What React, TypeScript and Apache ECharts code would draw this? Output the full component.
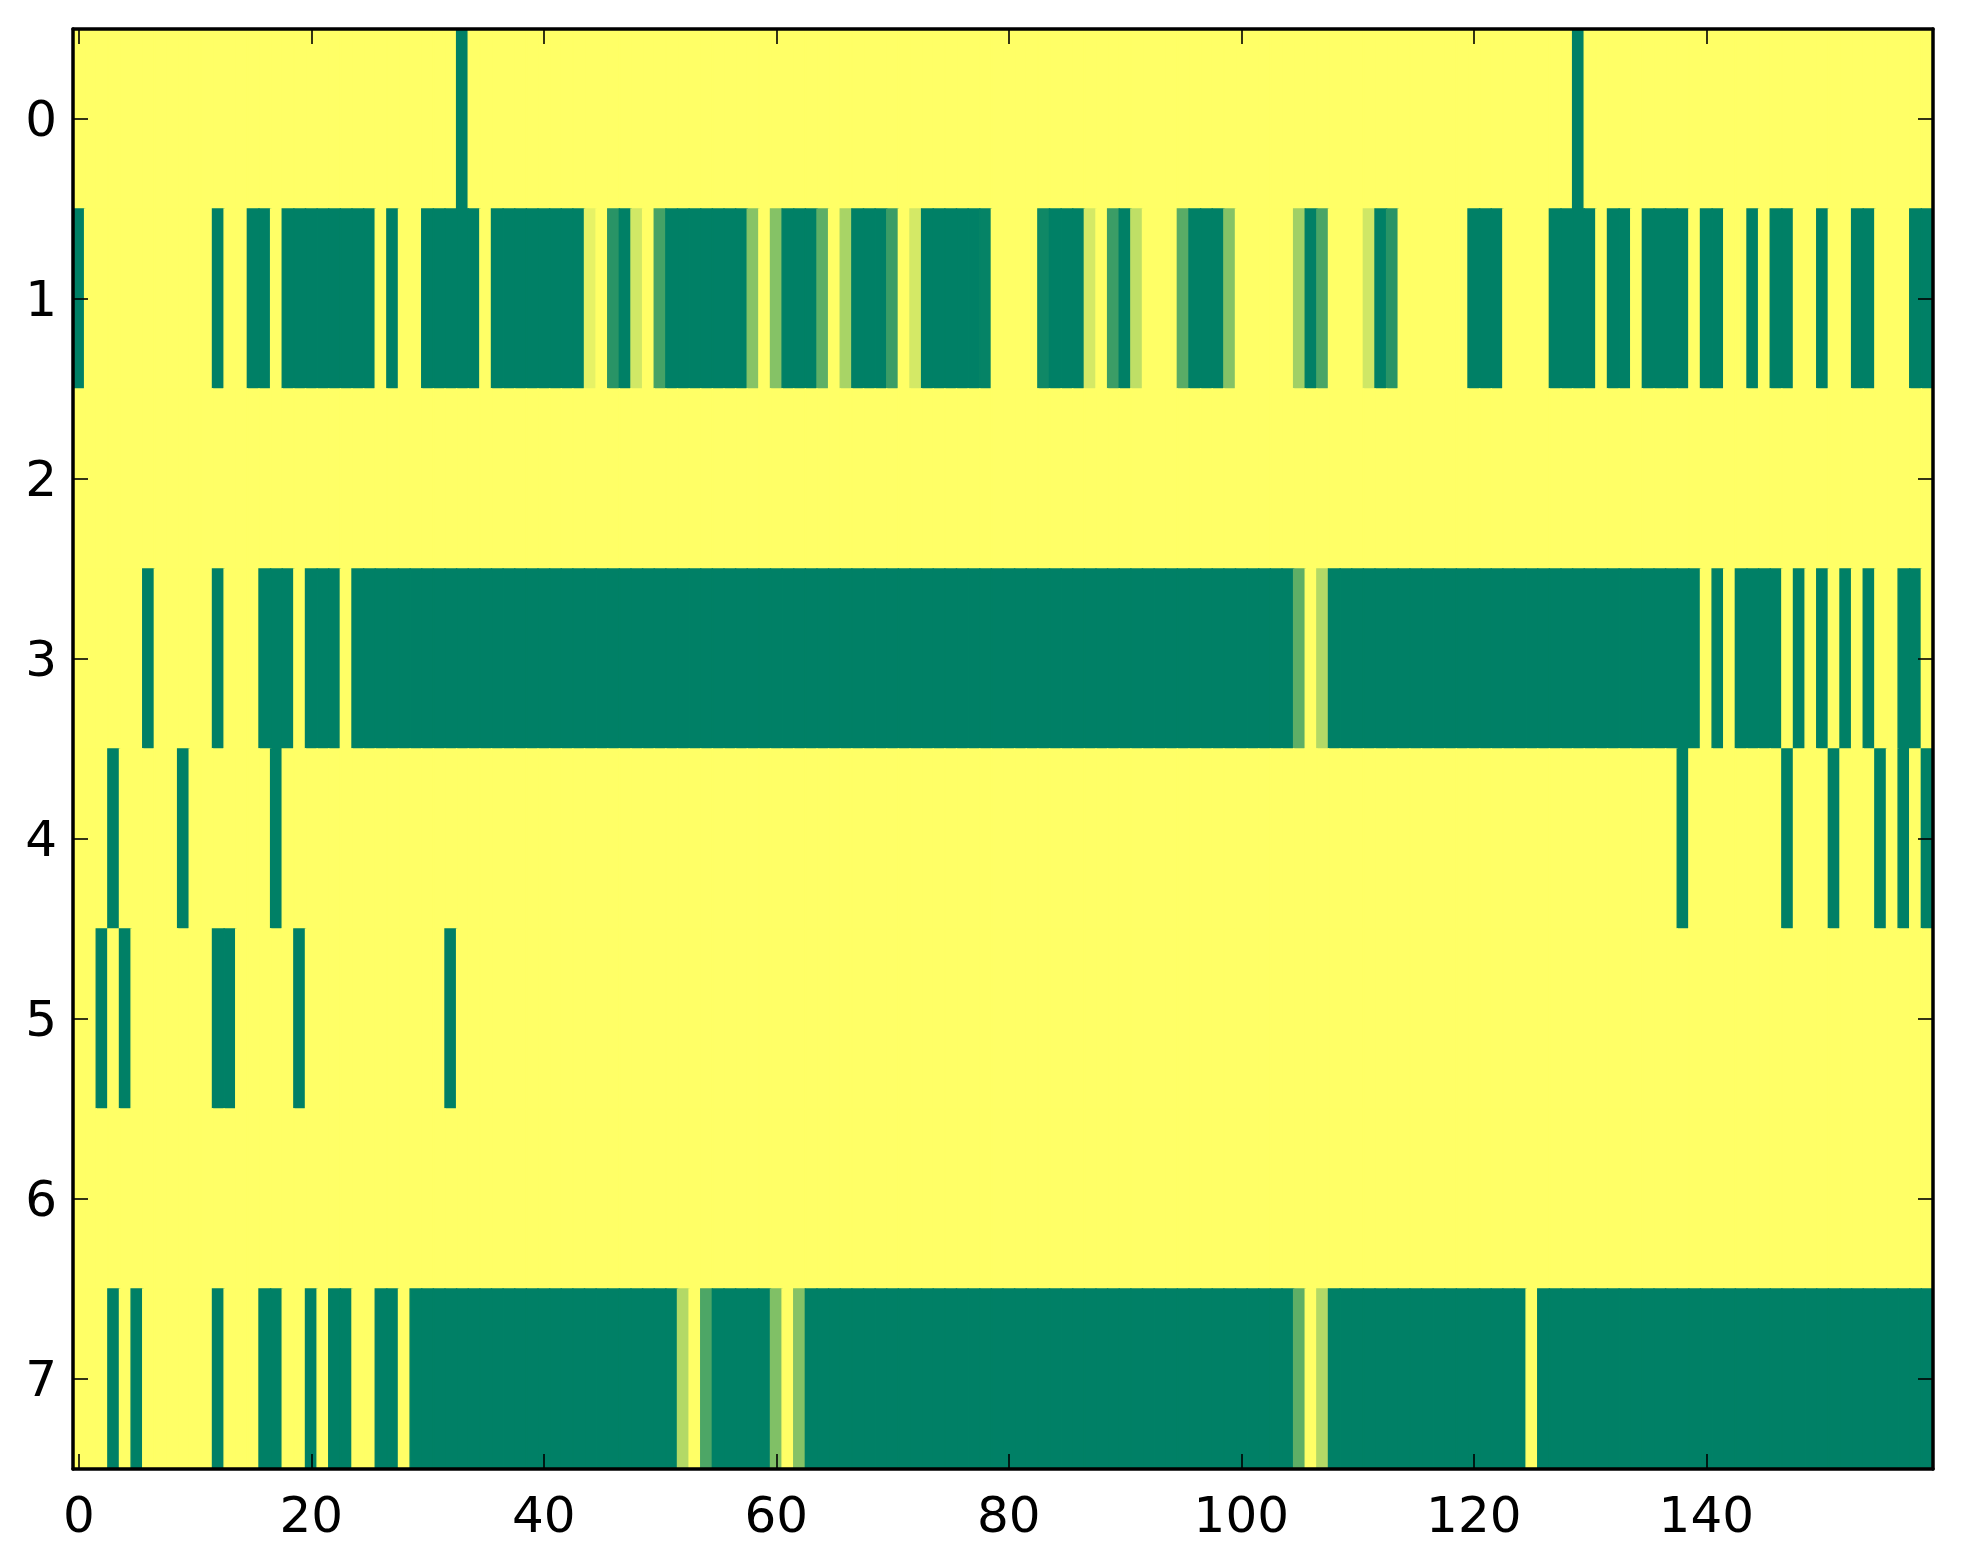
import React, { useEffect, useRef } from "react";
import * as echarts from "echarts";

// x tick values / labels and y tick values / labels
const xTicks = [0, 20, 40, 60, 80, 100, 120, 140];
const yTicks = [0, 1, 2, 3, 4, 5, 6, 7];

// one array of 160 values per image row (0 = green, 1 = yellow)
const row0 = [
  1,1,1,1,1,1,1,1,1,1, 1,1,1,1,1,1,1,1,1,1,
  1,1,1,1,1,1,1,1,1,1, 1,1,1,0,1,1,1,1,1,1,
  1,1,1,1,1,1,1,1,1,1, 1,1,1,1,1,1,1,1,1,1,
  1,1,1,1,1,1,1,1,1,1, 1,1,1,1,1,1,1,1,1,1,
  1,1,1,1,1,1,1,1,1,1, 1,1,1,1,1,1,1,1,1,1,
  1,1,1,1,1,1,1,1,1,1, 1,1,1,1,1,1,1,1,1,1,
  1,1,1,1,1,1,1,1,1,0, 1,1,1,1,1,1,1,1,1,1,
  1,1,1,1,1,1,1,1,1,1, 1,1,1,1,1,1,1,1,1,1,
];
const row1 = [
  0,1,1,1,1,1,1,1,1,1, 1,1,0,1,1,0,0,1,0,0,
  0,0,0,0,0,0,1,0,1,1, 0,0,0,0,0,1,0,0,0,0,
  0,0,0,0,0.9,1,0.16,0,0.82,1, 0.27,0,0,0,0,0,0,0,0.53,1,
  0.52,0,0,0,0.37,1,0.66,0,0,0, 0.23,1,0.83,0,0,0,0,0,0.02,1,
  1,1,1,0.06,0,0,0,0.83,1,0.23, 0,0.75,1,1,1,0.35,0,0,0,0.52,
  1,1,1,1,1,0.63,0,0.29,1,1, 1,0.81,0,0.16,1,1,1,1,1,1,
  0,0,0,1,1,1,1,0,0,0, 0,1,0,0,1,0,0,0,0,1,
  0,0,1,1,0,1,0,0,1,1, 0,1,1,0,0,1,1,1,0,0,
];
const row2 = [
  1,1,1,1,1,1,1,1,1,1, 1,1,1,1,1,1,1,1,1,1,
  1,1,1,1,1,1,1,1,1,1, 1,1,1,1,1,1,1,1,1,1,
  1,1,1,1,1,1,1,1,1,1, 1,1,1,1,1,1,1,1,1,1,
  1,1,1,1,1,1,1,1,1,1, 1,1,1,1,1,1,1,1,1,1,
  1,1,1,1,1,1,1,1,1,1, 1,1,1,1,1,1,1,1,1,1,
  1,1,1,1,1,1,1,1,1,1, 1,1,1,1,1,1,1,1,1,1,
  1,1,1,1,1,1,1,1,1,1, 1,1,1,1,1,1,1,1,1,1,
  1,1,1,1,1,1,1,1,1,1, 1,1,1,1,1,1,1,1,1,1,
];
const row3 = [
  1,1,1,1,1,1,0,1,1,1, 1,1,0,1,1,1,0,0,0,1,
  0,0,0,1,0,0,0,0,0,0, 0,0,0,0,0,0,0,0,0,0,
  0,0,0,0,0,0,0,0,0,0, 0,0,0,0,0,0,0,0,0,0,
  0,0,0,0,0,0,0,0,0,0, 0,0,0,0,0,0,0,0,0,0,
  0,0,0,0,0,0,0,0,0,0, 0,0,0,0,0,0,0,0,0,0,
  0,0,0,0,0,0.37,1,0.7,0,0, 0,0,0,0,0,0,0,0,0,0,
  0,0,0,0,0,0,0,0,0,0, 0,0,0,0,0,0,0,0,0,0,
  1,0,1,0,0,0,0,1,0,1, 0,1,0,1,0,1,1,0,0,1,
];
const row4 = [
  1,1,1,0,1,1,1,1,1,0, 1,1,1,1,1,1,1,0,1,1,
  1,1,1,1,1,1,1,1,1,1, 1,1,1,1,1,1,1,1,1,1,
  1,1,1,1,1,1,1,1,1,1, 1,1,1,1,1,1,1,1,1,1,
  1,1,1,1,1,1,1,1,1,1, 1,1,1,1,1,1,1,1,1,1,
  1,1,1,1,1,1,1,1,1,1, 1,1,1,1,1,1,1,1,1,1,
  1,1,1,1,1,1,1,1,1,1, 1,1,1,1,1,1,1,1,1,1,
  1,1,1,1,1,1,1,1,1,1, 1,1,1,1,1,1,1,1,0,1,
  1,1,1,1,1,1,1,0,1,1, 1,0,1,1,1,0,1,0,1,0,
];
const row5 = [
  1,1,0,1,0,1,1,1,1,1, 1,1,0,0,1,1,1,1,1,0,
  1,1,1,1,1,1,1,1,1,1, 1,1,0,1,1,1,1,1,1,1,
  1,1,1,1,1,1,1,1,1,1, 1,1,1,1,1,1,1,1,1,1,
  1,1,1,1,1,1,1,1,1,1, 1,1,1,1,1,1,1,1,1,1,
  1,1,1,1,1,1,1,1,1,1, 1,1,1,1,1,1,1,1,1,1,
  1,1,1,1,1,1,1,1,1,1, 1,1,1,1,1,1,1,1,1,1,
  1,1,1,1,1,1,1,1,1,1, 1,1,1,1,1,1,1,1,1,1,
  1,1,1,1,1,1,1,1,1,1, 1,1,1,1,1,1,1,1,1,1,
];
const row6 = [
  1,1,1,1,1,1,1,1,1,1, 1,1,1,1,1,1,1,1,1,1,
  1,1,1,1,1,1,1,1,1,1, 1,1,1,1,1,1,1,1,1,1,
  1,1,1,1,1,1,1,1,1,1, 1,1,1,1,1,1,1,1,1,1,
  1,1,1,1,1,1,1,1,1,1, 1,1,1,1,1,1,1,1,1,1,
  1,1,1,1,1,1,1,1,1,1, 1,1,1,1,1,1,1,1,1,1,
  1,1,1,1,1,1,1,1,1,1, 1,1,1,1,1,1,1,1,1,1,
  1,1,1,1,1,1,1,1,1,1, 1,1,1,1,1,1,1,1,1,1,
  1,1,1,1,1,1,1,1,1,1, 1,1,1,1,1,1,1,1,1,1,
];
const row7 = [
  1,1,1,0,1,0,1,1,1,1, 1,1,0,1,1,1,0,0,1,1,
  0,1,0,0,1,1,0,0,1,0, 0,0,0,0,0,0,0,0,0,0,
  0,0,0,0,0,0,0,0,0,0, 0,0,0.7,1,0.3,0,0,0,0,0,
  0.5,1,0.52,0,0,0,0,0,0,0, 0,0,0,0,0,0,0,0,0,0,
  0,0,0,0,0,0,0,0,0,0, 0,0,0,0,0,0,0,0,0,0,
  0,0,0,0,0,0.37,1,0.7,0,0, 0,0,0,0,0,0,0,0,0,0,
  0,0,0,0,0,1,0,0,0,0, 0,0,0,0,0,0,0,0,0,0,
  0,0,0,0,0,0,0,0,0,0, 0,0,0,0,0,0,0,0,0,0,
];

const rows = [row0, row1, row2, row3, row4, row5, row6, row7];

const FONT = "DejaVu Sans";

export default function App() {
  const ref = useRef<HTMLDivElement>(null);

  useEffect(() => {
    if (!ref.current) return;
    const chart = echarts.init(ref.current, null, { renderer: "svg" });

    const cells: number[][] = [];
    rows.forEach((r, yi) => r.forEach((v, xi) => cells.push([xi, yi, v])));

    const axisLine = { show: true, onZero: false, lineStyle: { color: "#000", width: 3.5 } };
    const tickStyle = { color: "#000", width: 1.6 };
    const labelStyle = { color: "#000", fontSize: 50, fontFamily: FONT };

    chart.setOption({
      animation: false,
      backgroundColor: "#fff",
      grid: { left: 73, right: 30, top: 29, bottom: 95, containLabel: false },
      visualMap: {
        show: false,
        type: "continuous",
        dimension: 2,
        min: 0,
        max: 1,
        seriesIndex: 0,
        inRange: { color: ["#008066", "#ffff66"] },
      },
      xAxis: [
        {
          type: "value",
          position: "bottom",
          min: -0.5,
          max: 159.5,
          z: 10,
          axisLine,
          splitLine: { show: false },
          axisTick: { show: true, inside: true, length: 15, lineStyle: tickStyle, customValues: xTicks },
          axisLabel: { show: true, margin: 21, ...labelStyle, customValues: xTicks },
        },
        {
          type: "value",
          position: "top",
          min: -0.5,
          max: 159.5,
          z: 10,
          axisLine,
          splitLine: { show: false },
          axisTick: { show: true, inside: true, length: 15, lineStyle: tickStyle, customValues: xTicks },
          axisLabel: { show: false },
        },
      ],
      yAxis: [
        {
          type: "value",
          position: "left",
          min: -0.5,
          max: 7.5,
          inverse: true,
          z: 10,
          axisLine,
          splitLine: { show: false },
          axisTick: { show: true, inside: true, length: 15, lineStyle: tickStyle, customValues: yTicks },
          axisLabel: { show: true, margin: 16, ...labelStyle, customValues: yTicks },
        },
        {
          type: "value",
          position: "right",
          min: -0.5,
          max: 7.5,
          inverse: true,
          z: 10,
          axisLine,
          splitLine: { show: false },
          axisTick: { show: true, inside: true, length: 15, lineStyle: tickStyle, customValues: yTicks },
          axisLabel: { show: false },
        },
      ],
      series: [
        {
          type: "custom",
          xAxisIndex: 0,
          yAxisIndex: 0,
          z: 2,
          encode: { x: 0, y: 1 },
          data: cells,
          renderItem: (params: any, api: any) => {
            const x = api.value(0);
            const y = api.value(1);
            const p0 = api.coord([x - 0.5, y - 0.5]);
            const p1 = api.coord([x + 0.5, y + 0.5]);
            const color = api.visual("color");
            return {
              type: "rect",
              shape: {
                x: Math.min(p0[0], p1[0]),
                y: Math.min(p0[1], p1[1]),
                width: Math.abs(p1[0] - p0[0]),
                height: Math.abs(p1[1] - p0[1]),
              },
              style: { fill: color, stroke: color, lineWidth: 1.4 },
            };
          },
        },
      ],
    });

    return () => chart.dispose();
  }, []);

  return (
    <div
      ref={ref}
      style={{ position: "fixed", left: 0, top: 0, width: 1963, height: 1564, background: "#fff" }}
    />
  );
}
